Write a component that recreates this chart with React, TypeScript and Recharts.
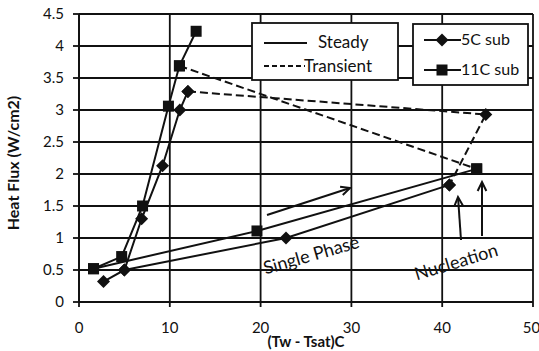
import React from 'react';
import { LineChart, Line, XAxis, YAxis, CartesianGrid } from 'recharts';

const xTicks = [0, 10, 20, 30, 40, 50];
const yTicks = [0, 0.5, 1, 1.5, 2, 2.5, 3, 3.5, 4, 4.5];

// 5C sub
const sub5BoilX = [2.7, 5.0, 6.9, 9.2, 11.1, 12.0];
const sub5BoilY = [0.32, 0.5, 1.3, 2.13, 3.0, 3.29];
const sub5SingleX = [5.0, 22.8, 40.8];
const sub5SingleY = [0.5, 1.0, 1.83];
const sub5TransX = [12.0, 44.8, 40.8];
const sub5TransY = [3.29, 2.93, 1.83];

// 11C sub
const sub11BoilX = [1.6, 4.7, 7.0, 9.85, 11.06, 12.9];
const sub11BoilY = [0.52, 0.71, 1.5, 3.06, 3.69, 4.23];
const sub11SingleX = [1.6, 19.6, 43.8];
const sub11SingleY = [0.52, 1.11, 2.08];
const sub11TransX = [11.06, 43.8];
const sub11TransY = [3.69, 2.08];

const zip = (xs: number[], ys: number[]) => xs.map((x, i) => ({ x, y: ys[i] }));

const FONT = 'Lato, "Open Sans", sans-serif';
const INK = '#111';

const Diamond = (props: any) => {
  const { cx, cy, index } = props;
  if (cx == null || cy == null) return <g key={index} />;
  const r = 6.5;
  return (
    <polygon key={index} points={`${cx},${cy - r} ${cx + r},${cy} ${cx},${cy + r} ${cx - r},${cy}`} fill={INK} />
  );
};

const Square = (props: any) => {
  const { cx, cy, index } = props;
  if (cx == null || cy == null) return <g key={index} />;
  const r = 5.5;
  return <rect key={index} x={cx - r} y={cy - r} width={r * 2} height={r * 2} fill={INK} />;
};

const Arrow = ({ x1, y1, x2, y2 }: { x1: number; y1: number; x2: number; y2: number }) => {
  const a = Math.atan2(y2 - y1, x2 - x1);
  const h = 10;
  const s = 0.45;
  const p1 = `${x2 - h * Math.cos(a - s)},${y2 - h * Math.sin(a - s)}`;
  const p2 = `${x2 - h * Math.cos(a + s)},${y2 - h * Math.sin(a + s)}`;
  return (
    <g stroke={INK} strokeWidth={2} fill="none">
      <line x1={x1} y1={y1} x2={x2} y2={y2} />
      <polyline points={`${p1} ${x2},${y2} ${p2}`} />
    </g>
  );
};

export default function App() {
  const lineProps = { stroke: INK, strokeWidth: 2, isAnimationActive: false, dataKey: 'y', legendType: 'none' as const };
  return (
    <div style={{ position: 'absolute', left: 0, top: 0, width: 539, height: 351, background: '#fff' }}>
      <LineChart width={539} height={351} margin={{ top: 14, right: 6, bottom: 0, left: 0 }}>
        <CartesianGrid stroke={INK} strokeWidth={1.8} horizontalValues={yTicks} verticalValues={xTicks} />
        <XAxis
          type="number"
          dataKey="x"
          domain={[0, 50]}
          ticks={xTicks}
          height={49}
          tickSize={5}
          tickMargin={15}
          stroke={INK}
          strokeWidth={1.8}
          tick={{ fill: INK, fontSize: 15, fontFamily: FONT }}
        />
        <YAxis
          type="number"
          domain={[0, 4.5]}
          ticks={yTicks}
          width={79}
          tickSize={6}
          tickMargin={9}
          stroke={INK}
          strokeWidth={1.8}
          tick={{ fill: INK, fontSize: 15, fontFamily: FONT }}
        />
        <Line {...lineProps} data={zip(sub5TransX, sub5TransY)} strokeDasharray="8 4" dot={Diamond} />
        <Line {...lineProps} data={zip(sub11TransX, sub11TransY)} strokeDasharray="8 4" dot={Square} />
        <Line {...lineProps} data={zip(sub5BoilX, sub5BoilY)} dot={Diamond} />
        <Line {...lineProps} data={zip(sub5SingleX, sub5SingleY)} dot={Diamond} />
        <Line {...lineProps} data={zip(sub11BoilX, sub11BoilY)} dot={Square} />
        <Line {...lineProps} data={zip(sub11SingleX, sub11SingleY)} dot={Square} />
      </LineChart>
      <svg width={539} height={351} style={{ position: 'absolute', left: 0, top: 0, pointerEvents: 'none' }}>
        <g fontFamily={FONT} fill={INK}>
          {/* axis titles */}
          <text x={0} y={0} transform="translate(19,163) rotate(-90)" textAnchor="middle" fontSize={16} fontWeight="bold">
            Heat Flux (W/cm2)
          </text>
          <text x={306} y={347} textAnchor="middle" fontSize={15} fontWeight="bold">
            (Tw - Tsat)C
          </text>

          {/* line style legend */}
          <rect x={252} y={23} width={146} height={57} fill="#fff" stroke={INK} strokeWidth={1.8} />
          <line x1={264} y1={43} x2={307} y2={43} stroke={INK} strokeWidth={1.8} />
          <text x={318} y={48} fontSize={17}>Steady</text>
          <line x1={264} y1={66} x2={305} y2={66} stroke={INK} strokeWidth={1.8} strokeDasharray="5 3" />
          <text x={304} y={72} fontSize={17}>Transient</text>

          {/* series legend */}
          <rect x={413} y={24} width={115} height={61} fill="#fff" stroke={INK} strokeWidth={1.8} />
          <line x1={424} y1={40} x2={461} y2={40} stroke={INK} strokeWidth={1.8} />
          <Diamond cx={442} cy={40} />
          <text x={461} y={45} fontSize={16}>5C sub</text>
          <line x1={424} y1={70} x2={461} y2={70} stroke={INK} strokeWidth={1.8} />
          <Square cx={442} cy={70} />
          <text x={461} y={75} fontSize={16}>11C sub</text>

          {/* annotations */}
          <Arrow x1={267} y1={215} x2={350} y2={188} />
          <Arrow x1={461} y1={240} x2={458} y2={197} />
          <Arrow x1={482} y1={236} x2={482} y2={182} />
          <text x={0} y={0} transform="translate(313,261) rotate(-16)" textAnchor="middle" fontSize={18}>
            Single Phase
          </text>
          <text x={0} y={0} transform="translate(458,268) rotate(-17)" textAnchor="middle" fontSize={18}>
            Nucleation
          </text>
        </g>
      </svg>
    </div>
  );
}
